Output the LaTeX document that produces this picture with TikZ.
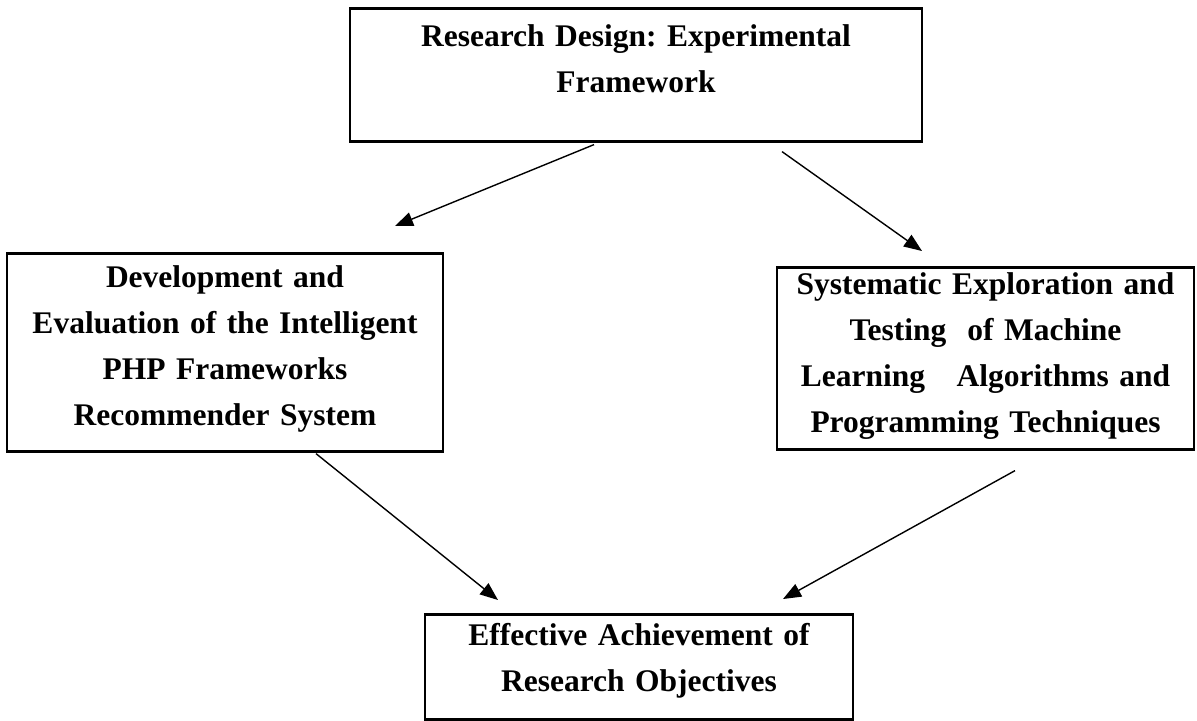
\documentclass[tikz,border=0pt]{standalone}
\usepackage{fontspec}
\setmainfont{Liberation Serif}
\usetikzlibrary{positioning,calc,arrows.meta}
\frenchspacing

\begin{document}
\begin{tikzpicture}[x=0.5pt, y=-0.5pt,
  stagebox/.style={draw=black, line width=1.3pt, align=center, inner xsep=0pt, inner ysep=0pt,
    anchor=north, font=\fontsize{15.75}{23}\selectfont\bfseries},
  flowarrow/.style={line width=0.7pt, -{Triangle[length=9pt, width=7pt]}},
]
\useasboundingbox (0,0) rectangle (1197,720);
% boxes: text height/depth measured from the first baseline
\node[stagebox, text width=286pt, text height=19pt, text depth=47.5pt] (design) at (636,7)
  {Research Design: Experimental\\Framework};
\node[stagebox, text width=218pt, text height=17pt, text depth=82pt] (develop) at (225,252)
  {Development and\\Evaluation of the Intelligent\\PHP Frameworks\\Recommender System};
\node[stagebox, text width=208.5pt, text height=13.5pt, text depth=77.5pt] (explore) at (985.5,266)
  {Systematic Exploration and\\Testing\ \ of Machine\\Learning\ \ \ Algorithms and\\Programming Techniques};
\node[stagebox, text width=214pt, text height=15.5pt, text depth=37pt] (achieve) at (639,613)
  {Effective Achievement of\\Research Objectives};

% free ends of the arrows
\coordinate (designL) at ($(design.south)+(-42,2)$);
\coordinate (designR) at ($(design.south)+(146,9)$);
\coordinate (developB) at ($(develop.south)+(91,1)$);
\coordinate (exploreB) at ($(explore.south)+(29.5,20)$);
\coordinate (tipL) at (395,226);
\coordinate (tipR) at (922,251);
\coordinate (tipBL) at (498,600);
\coordinate (tipBR) at (783,599);

\draw[flowarrow] (designL) -- (tipL);
\draw[flowarrow] (designR) -- (tipR);
\draw[flowarrow] (developB) -- (tipBL);
\draw[flowarrow] (exploreB) -- (tipBR);
\end{tikzpicture}
\end{document}
